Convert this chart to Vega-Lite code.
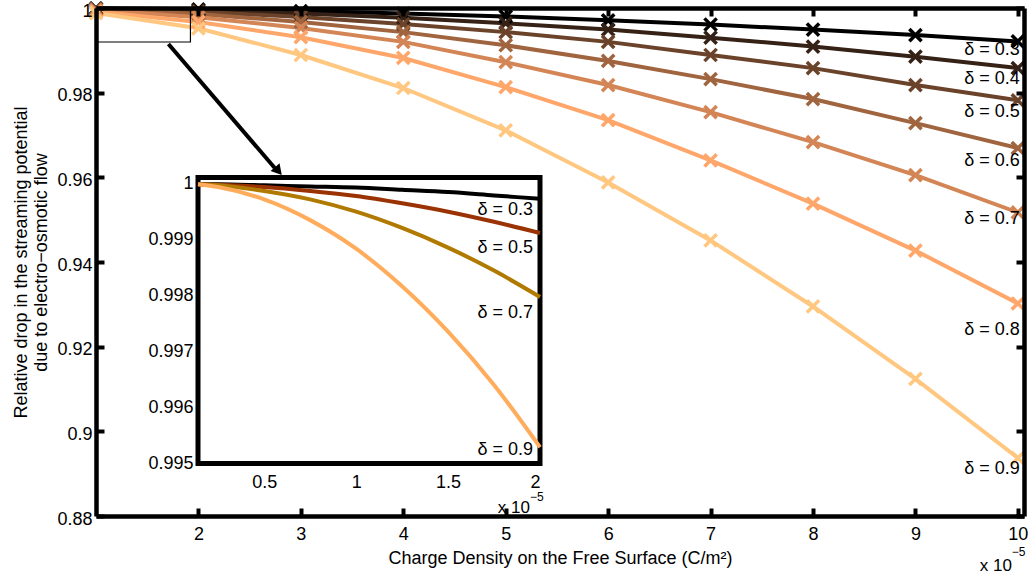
{
  "$schema": "https://vega.github.io/schema/vega-lite/v6.json",
  "width": 928,
  "height": 508,
  "autosize": "none",
  "padding": {"left": 96, "top": 8, "right": 5, "bottom": 58},
  "background": "white",
  "config": {
    "view": {"stroke": null},
    "font": "Liberation Sans",
    "text": {"font": "Liberation Sans"}
  },
  "datasets": {
    "one": [{}],
    "main": [
      {"d": "0.3", "x": 1, "y": 0.99992}, {"d": "0.3", "x": 2, "y": 0.99968}, {"d": "0.3", "x": 3, "y": 0.99928}, {"d": "0.3", "x": 4, "y": 0.9987}, {"d": "0.3", "x": 5, "y": 0.998}, {"d": "0.3", "x": 6, "y": 0.9971}, {"d": "0.3", "x": 7, "y": 0.9961}, {"d": "0.3", "x": 8, "y": 0.9949}, {"d": "0.3", "x": 9, "y": 0.9936}, {"d": "0.3", "x": 10, "y": 0.9921},
      {"d": "0.4", "x": 1, "y": 0.99986}, {"d": "0.4", "x": 2, "y": 0.9994}, {"d": "0.4", "x": 3, "y": 0.9987}, {"d": "0.4", "x": 4, "y": 0.9977}, {"d": "0.4", "x": 5, "y": 0.9964}, {"d": "0.4", "x": 6, "y": 0.9949}, {"d": "0.4", "x": 7, "y": 0.993}, {"d": "0.4", "x": 8, "y": 0.9909}, {"d": "0.4", "x": 9, "y": 0.9885}, {"d": "0.4", "x": 10, "y": 0.9858},
      {"d": "0.5", "x": 1, "y": 0.9998}, {"d": "0.5", "x": 2, "y": 0.9991}, {"d": "0.5", "x": 3, "y": 0.9979}, {"d": "0.5", "x": 4, "y": 0.9962}, {"d": "0.5", "x": 5, "y": 0.9943}, {"d": "0.5", "x": 6, "y": 0.992}, {"d": "0.5", "x": 7, "y": 0.9889}, {"d": "0.5", "x": 8, "y": 0.9858}, {"d": "0.5", "x": 9, "y": 0.9818}, {"d": "0.5", "x": 10, "y": 0.9782},
      {"d": "0.6", "x": 1, "y": 0.9997}, {"d": "0.6", "x": 2, "y": 0.9986}, {"d": "0.6", "x": 3, "y": 0.9967}, {"d": "0.6", "x": 4, "y": 0.9943}, {"d": "0.6", "x": 5, "y": 0.9912}, {"d": "0.6", "x": 6, "y": 0.9875}, {"d": "0.6", "x": 7, "y": 0.9832}, {"d": "0.6", "x": 8, "y": 0.9785}, {"d": "0.6", "x": 9, "y": 0.9728}, {"d": "0.6", "x": 10, "y": 0.9669},
      {"d": "0.7", "x": 1, "y": 0.9995}, {"d": "0.7", "x": 2, "y": 0.9978}, {"d": "0.7", "x": 3, "y": 0.9953}, {"d": "0.7", "x": 4, "y": 0.992}, {"d": "0.7", "x": 5, "y": 0.9872}, {"d": "0.7", "x": 6, "y": 0.9818}, {"d": "0.7", "x": 7, "y": 0.9754}, {"d": "0.7", "x": 8, "y": 0.9683}, {"d": "0.7", "x": 9, "y": 0.9605}, {"d": "0.7", "x": 10, "y": 0.9517},
      {"d": "0.8", "x": 1, "y": 0.9992}, {"d": "0.8", "x": 2, "y": 0.9967}, {"d": "0.8", "x": 3, "y": 0.9931}, {"d": "0.8", "x": 4, "y": 0.9882}, {"d": "0.8", "x": 5, "y": 0.9813}, {"d": "0.8", "x": 6, "y": 0.9735}, {"d": "0.8", "x": 7, "y": 0.964}, {"d": "0.8", "x": 8, "y": 0.9538}, {"d": "0.8", "x": 9, "y": 0.9427}, {"d": "0.8", "x": 10, "y": 0.9302},
      {"d": "0.9", "x": 1, "y": 0.9988}, {"d": "0.9", "x": 2, "y": 0.9952}, {"d": "0.9", "x": 3, "y": 0.9889}, {"d": "0.9", "x": 4, "y": 0.9811}, {"d": "0.9", "x": 5, "y": 0.9711}, {"d": "0.9", "x": 6, "y": 0.9588}, {"d": "0.9", "x": 7, "y": 0.9451}, {"d": "0.9", "x": 8, "y": 0.9295}, {"d": "0.9", "x": 9, "y": 0.9124}, {"d": "0.9", "x": 10, "y": 0.8937}
    ],
    "mainLabels": [
      {"d": "0.3", "x": 10, "y": 0.99008, "t": "δ = 0.3"},
      {"d": "0.4", "x": 10, "y": 0.98323, "t": "δ = 0.4"},
      {"d": "0.5", "x": 10, "y": 0.97543, "t": "δ = 0.5"},
      {"d": "0.6", "x": 10, "y": 0.96386, "t": "δ = 0.6"},
      {"d": "0.7", "x": 10, "y": 0.95015, "t": "δ = 0.7"},
      {"d": "0.8", "x": 10, "y": 0.92393, "t": "δ = 0.8"},
      {"d": "0.9", "x": 10, "y": 0.8911, "t": "δ = 0.9"}
    ],
    "inset": [
      {"d": "0.3", "x": 0.14, "y": 0.99998}, {"d": "0.3", "x": 0.25, "y": 0.99998}, {"d": "0.3", "x": 0.5, "y": 0.99996}, {"d": "0.3", "x": 0.75, "y": 0.99994}, {"d": "0.3", "x": 1, "y": 0.99992}, {"d": "0.3", "x": 1.25, "y": 0.99988}, {"d": "0.3", "x": 1.5, "y": 0.99984}, {"d": "0.3", "x": 1.75, "y": 0.99978}, {"d": "0.3", "x": 2, "y": 0.99972},
      {"d": "0.5", "x": 0.14, "y": 0.99998}, {"d": "0.5", "x": 0.25, "y": 0.99997}, {"d": "0.5", "x": 0.5, "y": 0.99993}, {"d": "0.5", "x": 0.75, "y": 0.99986}, {"d": "0.5", "x": 1, "y": 0.99977}, {"d": "0.5", "x": 1.25, "y": 0.99964}, {"d": "0.5", "x": 1.5, "y": 0.99949}, {"d": "0.5", "x": 1.75, "y": 0.99931}, {"d": "0.5", "x": 2, "y": 0.99911},
      {"d": "0.7", "x": 0.14, "y": 0.99998}, {"d": "0.7", "x": 0.25, "y": 0.99996}, {"d": "0.7", "x": 0.5, "y": 0.99986}, {"d": "0.7", "x": 0.75, "y": 0.99971}, {"d": "0.7", "x": 1, "y": 0.99949}, {"d": "0.7", "x": 1.25, "y": 0.9992}, {"d": "0.7", "x": 1.5, "y": 0.99885}, {"d": "0.7", "x": 1.75, "y": 0.99844}, {"d": "0.7", "x": 2, "y": 0.99797},
      {"d": "0.9", "x": 0.14, "y": 0.99998}, {"d": "0.9", "x": 0.25, "y": 0.99993}, {"d": "0.9", "x": 0.5, "y": 0.99971}, {"d": "0.9", "x": 0.75, "y": 0.99934}, {"d": "0.9", "x": 1, "y": 0.99883}, {"d": "0.9", "x": 1.25, "y": 0.99816}, {"d": "0.9", "x": 1.5, "y": 0.99735}, {"d": "0.9", "x": 1.75, "y": 0.9964}, {"d": "0.9", "x": 2, "y": 0.99529}
    ],
    "insetLabels": [
      {"d": "0.3", "x": 2, "y": 0.99952, "t": "δ = 0.3"},
      {"d": "0.5", "x": 2, "y": 0.99884, "t": "δ = 0.5"},
      {"d": "0.7", "x": 2, "y": 0.99768, "t": "δ = 0.7"},
      {"d": "0.9", "x": 2, "y": 0.99524, "t": "δ = 0.9"}
    ]
  },
  "resolve": {
    "scale": {"x": "independent", "y": "independent", "color": "independent"},
    "axis": {"x": "independent", "y": "independent"}
  },
  "layer": [
    {
      "data": {"name": "main"},
      "mark": {"type": "line", "strokeWidth": 4, "clip": false},
      "encoding": {
        "x": {"field": "x", "type": "quantitative", "scale": {"domain": [1, 10.06], "nice": false, "zero": false},
          "axis": {"orient": "bottom", "values": [2, 3, 4, 5, 6, 7, 8, 9, 10], "format": "d", "grid": false, "zindex": 2,
            "domainColor": "black", "domainWidth": 4.5, "tickColor": "black", "tickWidth": 4, "tickSize": -8,
            "labelFont": "Liberation Sans", "labelFontSize": 18, "labelColor": "black", "labelPadding": 17,
            "title": "Charge Density on the Free Surface (C/m²)", "titleFont": "Liberation Sans", "titleFontSize": 18,
            "titleFontWeight": "normal", "titleColor": "black", "titlePadding": 6}},
        "y": {"field": "y", "type": "quantitative", "scale": {"domain": [0.88, 1], "nice": false, "zero": false},
          "axis": {"orient": "left", "values": [0.88, 0.9, 0.92, 0.94, 0.96, 0.98, 1], "format": ".2~f", "grid": false, "zindex": 2,
            "domainColor": "black", "domainWidth": 4.5, "tickColor": "black", "tickWidth": 4, "tickSize": -8,
            "labelFont": "Liberation Sans", "labelFontSize": 18, "labelColor": "black", "labelPadding": 12, "labelOffset": 3,
            "title": ["Relative drop in the streaming potential", "due to electro−osmotic flow"],
            "titleFont": "Liberation Sans", "titleFontSize": 18, "titleFontWeight": "normal", "titleColor": "black",
            "titlePadding": 6, "titleLineHeight": 20}},
        "color": {"field": "d", "type": "nominal", "legend": null,
          "scale": {"domain": ["0.3", "0.4", "0.5", "0.6", "0.7", "0.8", "0.9"], "range": ["#000000", "#352115", "#6A432A", "#A0643F", "#D48555", "#FFA66A", "#FFC77F"]}}
      }
    },
    {
      "data": {"name": "main"},
      "mark": {"type": "point", "shape": "M-1,-1L1,1M-1,1L1,-1", "filled": false, "strokeWidth": 3.5, "size": 150, "opacity": 1, "clip": false},
      "encoding": {
        "x": {"field": "x", "type": "quantitative", "scale": {"domain": [1, 10.06], "nice": false, "zero": false}, "axis": null},
        "y": {"field": "y", "type": "quantitative", "scale": {"domain": [0.88, 1], "nice": false, "zero": false}, "axis": null},
        "color": {"field": "d", "type": "nominal", "legend": null,
          "scale": {"domain": ["0.3", "0.4", "0.5", "0.6", "0.7", "0.8", "0.9"], "range": ["#000000", "#352115", "#6A432A", "#A0643F", "#D48555", "#FFA66A", "#FFC77F"]}}
      }
    },
    {
      "data": {"name": "mainLabels"},
      "mark": {"type": "text", "align": "right", "baseline": "middle", "fontSize": 18, "font": "Liberation Sans", "color": "black", "dx": 2},
      "encoding": {
        "x": {"field": "x", "type": "quantitative", "scale": {"domain": [1, 10.06], "nice": false, "zero": false}, "axis": null},
        "y": {"field": "y", "type": "quantitative", "scale": {"domain": [0.88, 1], "nice": false, "zero": false}, "axis": null},
        "text": {"field": "t"}
      }
    },
    {
      "data": {"name": "one"},
      "mark": {"type": "rect", "fill": null, "fillOpacity": 0, "stroke": "black", "strokeWidth": 1.2},
      "encoding": {
        "x": {"datum": 1, "type": "quantitative", "scale": {"domain": [1, 10.06], "nice": false, "zero": false}, "axis": null},
        "x2": {"datum": 1.922},
        "y": {"datum": 1, "type": "quantitative", "scale": {"domain": [0.88, 1], "nice": false, "zero": false}, "axis": null},
        "y2": {"datum": 0.99197}
      }
    },
    {
      "data": {"name": "one"},
      "mark": {"type": "rule", "stroke": "black", "strokeWidth": 4},
      "encoding": {
        "x": {"datum": 1.707, "type": "quantitative", "scale": {"domain": [1, 10.06], "nice": false, "zero": false}, "axis": null},
        "x2": {"datum": 2.76},
        "y": {"datum": 0.9915, "type": "quantitative", "scale": {"domain": [0.88, 1], "nice": false, "zero": false}, "axis": null},
        "y2": {"datum": 0.9618}
      }
    },
    {
      "data": {"name": "one"},
      "mark": {"type": "point", "shape": "triangle-right", "angle": 49, "filled": true, "color": "black", "size": 140, "opacity": 1},
      "encoding": {
        "x": {"datum": 2.781, "type": "quantitative", "scale": {"domain": [1, 10.06], "nice": false, "zero": false}, "axis": null},
        "y": {"datum": 0.96149, "type": "quantitative", "scale": {"domain": [0.88, 1], "nice": false, "zero": false}, "axis": null}
      }
    },
    {
      "data": {"name": "one"},
      "mark": {"type": "rect", "fill": "white", "stroke": "black", "strokeWidth": 5},
      "encoding": {
        "x": {"datum": 0.14, "type": "quantitative", "scale": {"domain": [0.14, 2], "range": [102, 444], "nice": false, "zero": false},
          "axis": {"orient": "bottom", "offset": -52.5, "values": [0.5, 1, 1.5, 2], "format": "~g", "grid": false, "domain": false, "ticks": false,
            "labelFont": "Liberation Sans", "labelFontSize": 18, "labelColor": "black", "labelPadding": 10, "title": null, "zindex": 1}},
        "x2": {"datum": 2},
        "y": {"datum": 0.995, "type": "quantitative", "scale": {"domain": [0.995, 1.0001], "range": [455.5, 169.5], "nice": false, "zero": false},
          "axis": {"orient": "left", "offset": -102, "values": [0.995, 0.996, 0.997, 0.998, 0.999, 1], "format": ".3~f", "grid": false, "domain": false, "ticks": false,
            "labelFont": "Liberation Sans", "labelFontSize": 18, "labelColor": "black", "labelPadding": 5, "title": null, "zindex": 1}},
        "y2": {"datum": 1.0001}
      }
    },
    {
      "data": {"name": "inset"},
      "mark": {"type": "line", "strokeWidth": 4, "interpolate": "monotone"},
      "encoding": {
        "x": {"field": "x", "type": "quantitative", "scale": {"domain": [0.14, 2], "range": [102, 444], "nice": false, "zero": false}, "axis": null},
        "y": {"field": "y", "type": "quantitative", "scale": {"domain": [0.995, 1.0001], "range": [455.5, 169.5], "nice": false, "zero": false}, "axis": null},
        "color": {"field": "d", "type": "nominal", "legend": null,
          "scale": {"domain": ["0.3", "0.5", "0.7", "0.9"], "range": ["#000000", "#9B3203", "#B07A00", "#FFAD5C"]}}
      }
    },
    {
      "data": {"name": "insetLabels"},
      "mark": {"type": "text", "align": "right", "baseline": "middle", "fontSize": 18, "font": "Liberation Sans", "color": "black", "dx": -7},
      "encoding": {
        "x": {"field": "x", "type": "quantitative", "scale": {"domain": [0.14, 2], "range": [102, 444], "nice": false, "zero": false}, "axis": null},
        "y": {"field": "y", "type": "quantitative", "scale": {"domain": [0.995, 1.0001], "range": [455.5, 169.5], "nice": false, "zero": false}, "axis": null},
        "text": {"field": "t"}
      }
    },
    {
      "data": {"name": "one"},
      "mark": {"type": "text", "text": "x 10", "align": "right", "baseline": "middle", "fontSize": 17, "font": "Liberation Sans", "color": "black", "dx": -10, "dy": 44},
      "encoding": {
        "x": {"datum": 2, "type": "quantitative", "scale": {"domain": [0.14, 2], "range": [102, 444], "nice": false, "zero": false}, "axis": null},
        "y": {"datum": 0.995, "type": "quantitative", "scale": {"domain": [0.995, 1.0001], "range": [455.5, 169.5], "nice": false, "zero": false}, "axis": null}
      }
    },
    {
      "data": {"name": "one"},
      "mark": {"type": "text", "text": "−5", "align": "left", "baseline": "middle", "fontSize": 12, "font": "Liberation Sans", "color": "black", "dx": -10, "dy": 33},
      "encoding": {
        "x": {"datum": 2, "type": "quantitative", "scale": {"domain": [0.14, 2], "range": [102, 444], "nice": false, "zero": false}, "axis": null},
        "y": {"datum": 0.995, "type": "quantitative", "scale": {"domain": [0.995, 1.0001], "range": [455.5, 169.5], "nice": false, "zero": false}, "axis": null}
      }
    },
    {
      "data": {"name": "one"},
      "mark": {"type": "text", "text": "x 10", "align": "right", "baseline": "middle", "fontSize": 17, "font": "Liberation Sans", "color": "black", "dx": -6, "dy": 50},
      "encoding": {
        "x": {"datum": 10, "type": "quantitative", "scale": {"domain": [1, 10.06], "nice": false, "zero": false}, "axis": null},
        "y": {"datum": 0.88, "type": "quantitative", "scale": {"domain": [0.88, 1], "nice": false, "zero": false}, "axis": null}
      }
    },
    {
      "data": {"name": "one"},
      "mark": {"type": "text", "text": "−5", "align": "left", "baseline": "middle", "fontSize": 12, "font": "Liberation Sans", "color": "black", "dx": -6, "dy": 36},
      "encoding": {
        "x": {"datum": 10, "type": "quantitative", "scale": {"domain": [1, 10.06], "nice": false, "zero": false}, "axis": null},
        "y": {"datum": 0.88, "type": "quantitative", "scale": {"domain": [0.88, 1], "nice": false, "zero": false}, "axis": null}
      }
    },
    {
      "data": {"name": "one"},
      "mark": {"type": "point", "opacity": 0},
      "encoding": {
        "x": {"datum": 1, "type": "quantitative", "scale": {"domain": [1, 10.06], "nice": false, "zero": false},
          "axis": {"orient": "top", "values": [2, 3, 4, 5, 6, 7, 8, 9, 10], "labels": false, "grid": false, "zindex": 2, "title": null,
            "domainColor": "black", "domainWidth": 4.5, "tickColor": "black", "tickWidth": 4, "tickSize": -8}},
        "y": {"datum": 1, "type": "quantitative", "scale": {"domain": [0.88, 1], "nice": false, "zero": false},
          "axis": {"orient": "right", "values": [0.88, 0.9, 0.92, 0.94, 0.96, 0.98, 1], "labels": false, "grid": false, "zindex": 2, "title": null,
            "domainColor": "black", "domainWidth": 4.5, "tickColor": "black", "tickWidth": 4, "tickSize": -8}}
      }
    }
  ]
}
